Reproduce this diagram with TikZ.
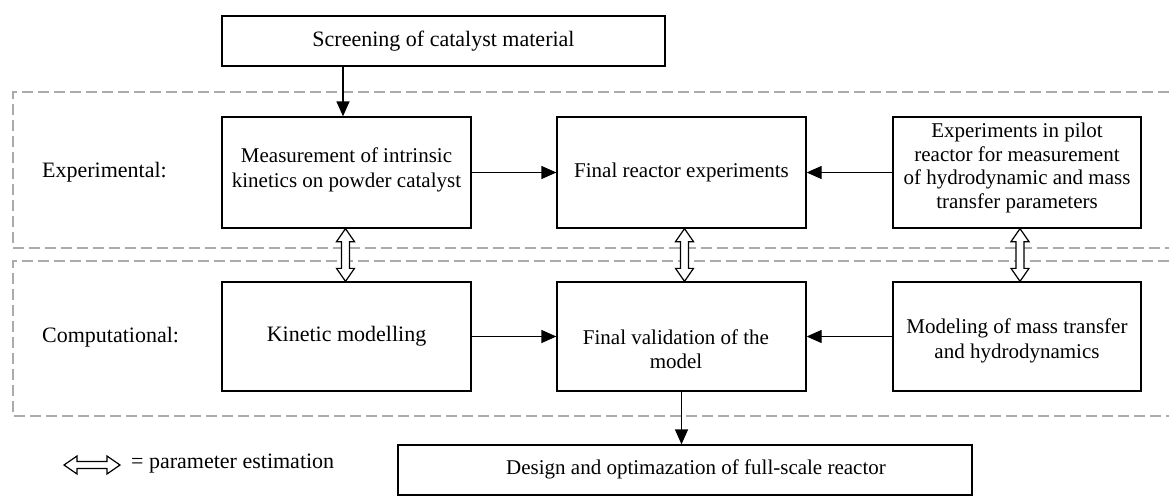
\documentclass[tikz,border=0pt]{standalone}
\usepackage{fontspec}
\setmainfont{Liberation Serif}
\usetikzlibrary{arrows.meta,calc}
\newcommand\fs[2]{\fontsize{#1}{#2}\selectfont}
\tikzset{
  box/.style={draw=black, line width=1.3pt, align=center, inner sep=0pt},
  txt/.style={align=center, inner sep=0pt},
  lbl/.style={anchor=west, inner sep=0pt, font=\fs{22}{26}},
  arr/.style={line width=1.3pt, -{Triangle[length=15pt,width=13pt]}},
  grp/.style={draw=black!33, line width=2.6pt, dash pattern=on 11pt off 5pt},
  dblar/.style={draw=black, fill=white, line width=1.2pt, line join=miter},
}
% vertical hollow double arrow between two points (top #1, bottom #2)
\newcommand\vdbl[2]{\draw[dblar] (#1) -- ++(9,13) -- ++(-5,0) -- ($(#2)+(4,-13)$) -- ++(5,0) -- (#2)
  -- ++(-9,-13) -- ++(5,0) -- ($(#1)+(-4,13)$) -- ++(-5,0) -- cycle;}
\begin{document}
\begin{tikzpicture}[x=1pt,y=-1pt]
\useasboundingbox (0,0) rectangle (1169,495);
\begin{scope}
\clip (0,0) rectangle (1169,495);
\draw[grp] (1185,92) -- (13,92) -- (13,248) -- (1185,248);
\draw[grp] (1185,261) -- (13,261) -- (13,416) -- (1185,416);

\node[box, minimum width=443pt, minimum height=50pt, font=\fs{22}{26}] (scr) at (443.5,41) {Screening of catalyst material};
\node[box, minimum width=249pt, minimum height=111pt] (meas) at (346.5,172.5) {};
\node[txt, font=\fs{21}{25.5}] (meas-t) at (346.5,170) {Measurement of intrinsic\\kinetics on powder catalyst};
\node[box, minimum width=249pt, minimum height=111pt, font=\fs{21}{25}] (frx) at (681.5,172.5) {Final reactor experiments};
\node[box, minimum width=248pt, minimum height=111pt] (pil) at (1017,172.5) {};
\node[txt, font=\fs{21}{23.8}] (pil-t) at (1017,168) {Experiments in pilot\\reactor for measurement\\of hydrodynamic and mass\\transfer parameters};
\node[box, minimum width=249pt, minimum height=109pt, font=\fs{22}{26}] (kin) at (346.5,336.5) {Kinetic modelling};
\node[box, minimum width=249pt, minimum height=109pt] (fval) at (681.5,336.5) {};
\node[txt, font=\fs{21}{24.5}] (fval-t) at (676,349) {Final validation of the\\model};
\node[box, minimum width=248pt, minimum height=109pt] (mod) at (1017,336.5) {};
\node[txt, font=\fs{21}{25.5}] (mod-t) at (1017,341) {Modeling of mass transfer\\and hydrodynamics};
\node[box, minimum width=574pt, minimum height=50pt] (des) at (685,470) {};
\node[txt, font=\fs{21}{25}] (des-t) at (696,469) {Design and optimazation of full-scale reactor};

\node[lbl] (lexp) at (42,172) {Experimental:};
\node[lbl] (lcomp) at (42,337) {Computational:};

\draw[arr] (scr.south -| 343,0) -- (343,0 |- meas.north);
\draw[arr] (meas.east) -- (frx.west);
\draw[arr] (pil.west) -- (frx.east);
\draw[arr] (kin.east) -- (fval.west);
\draw[arr] (mod.west) -- (fval.east);
\draw[arr] (fval.south) -- (fval.south |- des.north);

\coordinate (a1) at ($(meas.south)+(-1,0)$);
\coordinate (b1) at (a1 |- kin.north);
\coordinate (a2) at ($(frx.south)+(3,0)$);
\coordinate (b2) at (a2 |- fval.north);
\coordinate (a3) at ($(pil.south)+(3,0)$);
\coordinate (b3) at (a3 |- mod.north);
\vdbl{a1}{b1}
\vdbl{a2}{b2}
\vdbl{a3}{b3}

\coordinate (l1) at (64,465);
\coordinate (l2) at (120,465);
\draw[dblar] (l1) -- ++(13,-9) -- ++(0,5.5) -- ($(l2)+(-13,-3.5)$) -- ++(0,-5.5) -- (l2)
  -- ++(-13,9) -- ++(0,-5.5) -- ($(l1)+(13,3.5)$) -- ++(0,5.5) -- cycle;
\node[lbl] (legt) at (131,464) {= parameter estimation};
\end{scope}
\end{tikzpicture}
\end{document}
